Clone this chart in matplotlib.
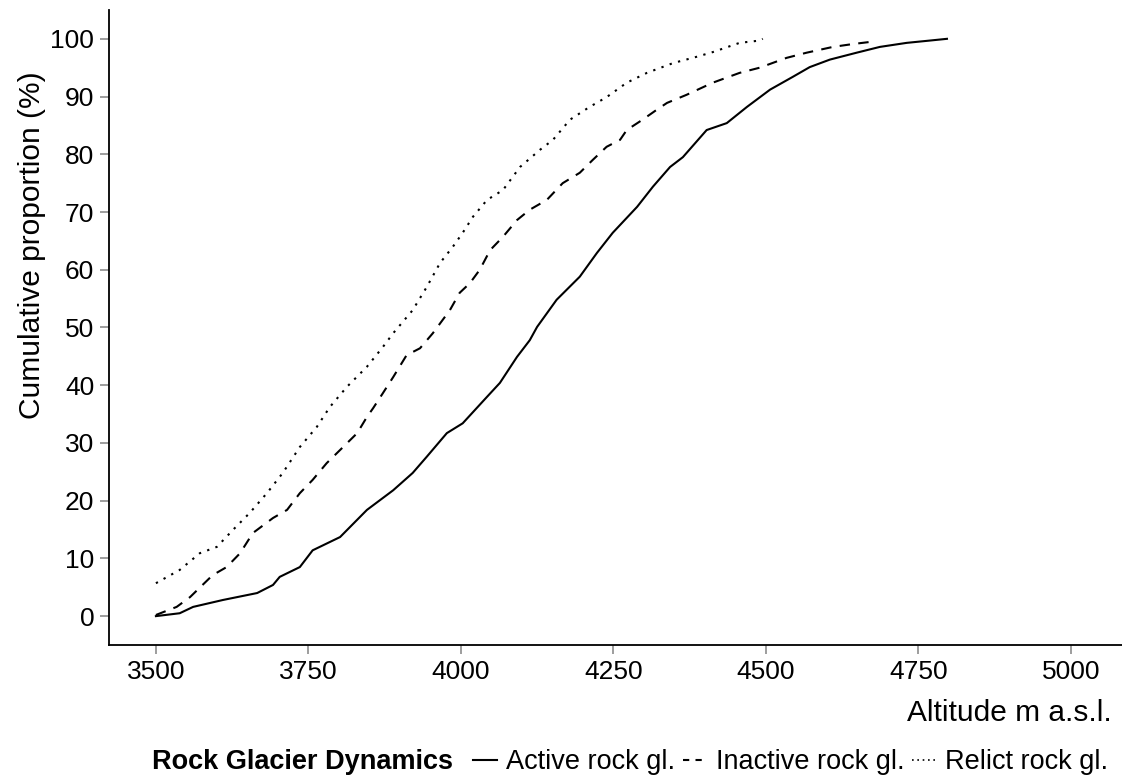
import matplotlib
matplotlib.use('Agg')
import matplotlib.pyplot as plt
from matplotlib.lines import Line2D

plt.rcParams['font.family'] = ['Liberation Sans', 'DejaVu Sans']

# ── data (altitude m a.s.l., cumulative %) ──
active_alt = [3500, 3539, 3561, 3610, 3666, 3692, 3703, 3736, 3757, 3802,
              3846, 3889, 3921, 3944, 3977, 4003, 4043, 4064, 4092, 4113,
              4125, 4157, 4195, 4223, 4249, 4289, 4315, 4343, 4364, 4403,
              4436, 4469, 4507, 4544, 4572, 4605, 4649, 4687, 4731, 4769,
              4797]
active_cum = [0, 0.5, 1.6, 2.8, 4.0, 5.4, 6.8, 8.5, 11.4, 13.7,
              18.4, 21.8, 24.8, 27.6, 31.7, 33.4, 38.0, 40.4, 44.9, 47.8,
              50.1, 54.8, 58.8, 62.9, 66.4, 70.9, 74.4, 77.8, 79.5, 84.2,
              85.4, 88.2, 91.2, 93.4, 95.1, 96.4, 97.6, 98.6, 99.3, 99.7,
              100]

inactive_alt = [3500, 3534, 3556, 3593, 3616, 3638, 3659, 3692, 3715, 3736,
                3757, 3780, 3807, 3830, 3846, 3856, 3872, 3889, 3911, 3933,
                3954, 3982, 3998, 4015, 4031, 4048, 4069, 4092, 4113, 4141,
                4167, 4195, 4216, 4239, 4261, 4272, 4298, 4321, 4338, 4370,
                4413, 4457, 4490, 4534, 4567, 4610, 4643, 4674]
inactive_cum = [0.2, 1.6, 3.3, 7.1, 8.5, 10.9, 14.4, 17.0, 18.4, 21.3,
                23.6, 26.5, 29.3, 31.7, 34.5, 36.0, 38.6, 41.4, 45.2, 46.4,
                49.0, 53.0, 56.0, 57.7, 60.0, 63.4, 65.7, 68.6, 70.4, 72.1,
                75.0, 76.8, 79.0, 81.3, 82.5, 84.2, 86.0, 87.7, 88.9, 90.3,
                92.4, 94.1, 95.0, 96.7, 97.6, 98.6, 99.1, 99.5]

relict_alt = [3500, 3539, 3572, 3600, 3626, 3654, 3682, 3708, 3736, 3764,
              3785, 3813, 3846, 3872, 3889, 3921, 3944, 3966, 3987, 4003,
              4020, 4043, 4069, 4097, 4130, 4151, 4179, 4211, 4239, 4272,
              4305, 4348, 4387, 4413, 4457, 4490, 4495]
relict_cum = [5.7, 8.0, 10.9, 12.0, 14.9, 17.9, 21.3, 24.8, 29.3, 32.8,
              36.2, 39.7, 43.2, 46.6, 49.0, 53.0, 57.0, 61.2, 64.0, 66.4,
              69.2, 72.1, 73.8, 77.8, 80.8, 82.5, 86.0, 88.2, 89.9, 92.4,
              94.1, 95.8, 96.9, 97.7, 99.3, 99.7, 100]

x_ticks = [3500, 3750, 4000, 4250, 4500, 4750, 5000]
y_ticks = list(range(0, 101, 10))

fig = plt.figure(figsize=(11.22, 7.84), dpi=100)
ax = fig.add_axes([0.0971, 0.1773, 0.9029, 0.810])

LW = 1.5
ax.plot(active_alt, active_cum, color='black', lw=LW, ls='-')
ax.plot(inactive_alt, inactive_cum, color='black', lw=LW, dashes=(5, 4))
ax.plot(relict_alt, relict_cum, color='black', lw=LW, dashes=(1.1, 3.1))

ax.set_xlim(3423, 5084)
ax.set_ylim(-5, 105)
ax.set_xticks(x_ticks)
ax.set_yticks(y_ticks)
ax.tick_params(axis='both', direction='out', length=6.5, width=1.2,
               color='#8c8c8c', labelsize=19, pad=4)
for s in ['top', 'right']:
    ax.spines[s].set_visible(False)
for s in ['left', 'bottom']:
    ax.spines[s].set_linewidth(1.3)

ax.set_ylabel('Cumulative proportion (%)', fontsize=21.5)
ax.yaxis.set_label_coords(-0.062, 0.63)
ax.set_xlabel('Altitude m a.s.l.', fontsize=21.5)
ax.xaxis.set_label_coords(0.99, -0.085)
ax.xaxis.label.set_ha('right')

# legend: bold title inline, then three entries
fig.text(0.1355, 0.028, 'Rock Glacier Dynamics', fontsize=19.5,
         fontweight='bold', ha='left', va='center')
handles = [
    Line2D([], [], color='black', lw=LW, ls='-'),
    Line2D([], [], color='black', lw=LW, dashes=(3, 3)),
    Line2D([], [], color='black', lw=LW * 0.8, dashes=(1, 2.2)),
]
labels = ['Active rock gl.', 'Inactive rock gl.', 'Relict rock gl.']
fig.legend(handles, labels, loc='center left', bbox_to_anchor=(0.422, 0.028),
           ncol=3, frameon=False, fontsize=19.5, handlelength=0.85,
           handletextpad=0.35, columnspacing=0.3, borderpad=0,
           borderaxespad=0)

fig.savefig('out.png', dpi=100)
